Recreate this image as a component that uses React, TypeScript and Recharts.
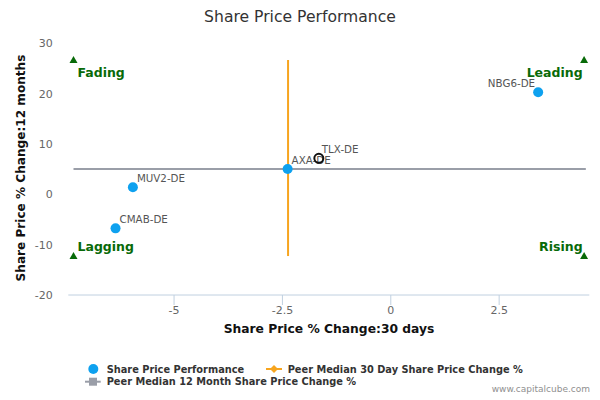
import React from "react";
import { ScatterChart, Scatter, XAxis, YAxis } from "recharts";

const BLUE = "#0ea1ef";
const ORANGE = "#f7a51f";
const GRAY = "#9a9ea8";
const GREEN = "#086a08";

// companies: 30 day change (x), 12 month change (y)
const tickers = ["MUV2-DE", "CMAB-DE", "AXA-DE", "NBG6-DE"];
const change30d = [-5.95, -6.35, -2.38, 3.4];
const change12m = [1.39, -6.76, 5.03, 20.28];

const focusTicker = ["TLX-DE"];
const focus30d = [-1.66];
const focus12m = [7.16];

// peer medians
const median30dX = [-2.37, -2.37];
const median30dY = [26.68, -12.26];
const median12mX = [-7.32, 4.5];
const median12mY = [5.03, 5.03];

// quadrant corner markers
const quadrantNames = ["Fading", "Lagging", "Leading", "Rising"];
const quadrantX = [-7.32, -7.32, 4.46, 4.46];
const quadrantY = [26.68, -12.26, 26.68, -12.26];

const xTicks = [-5, -2.5, 0, 2.5];
const yTicks = [-20, -10, 0, 10, 20, 30];

const companies = tickers.map((name, i) => ({ name, x: change30d[i], y: change12m[i] }));
const focus = focusTicker.map((name, i) => ({ name, x: focus30d[i], y: focus12m[i] }));
const medianX = median30dX.map((x, i) => ({ x, y: median30dY[i] }));
const medianY = median12mX.map((x, i) => ({ x, y: median12mY[i] }));
const quadrants = quadrantNames.map((name, i) => ({ name, x: quadrantX[i], y: quadrantY[i] }));

const labelStyle = { fontSize: 10.3, fill: "#555" };

const CompanyDot = (props: any) => {
  const { cx, cy, payload } = props;
  const right = payload.x > 0;
  return (
    <g>
      <circle cx={cx} cy={cy} r={5} fill={BLUE} />
      <text x={right ? cx - 3 : cx + 4} y={cy - 5} textAnchor={right ? "end" : "start"} {...labelStyle}>
        {payload.name}
      </text>
    </g>
  );
};

const FocusDot = (props: any) => {
  const { cx, cy, payload } = props;
  return (
    <g>
      <circle cx={cx} cy={cy} r={4.5} fill="none" stroke="#111" strokeWidth={2} />
      <text x={cx + 3} y={cy - 5} {...labelStyle}>
        {payload.name}
      </text>
    </g>
  );
};

const Corner = (props: any) => {
  const { cx, cy, payload } = props;
  const right = payload.x > 0;
  const top = payload.y > 0;
  return (
    <g>
      <path d={`M${cx},${cy - 4} L${cx + 4},${cy + 3} L${cx - 4},${cy + 3} Z`} fill={GREEN} />
      <text
        x={right ? cx - 1.5 : cx + 4}
        y={top ? cy + 16.7 : cy - 5.3}
        textAnchor={right ? "end" : "start"}
        fontSize={12.5}
        fontWeight="bold"
        fill={GREEN}
      >
        {payload.name}
      </text>
    </g>
  );
};

const Empty = () => <g />;

export default function App() {
  return (
    <div style={{ position: "absolute", left: 0, top: 0, width: 600, height: 400, fontFamily: "DejaVu Sans", background: "#fff" }}>
      <ScatterChart width={600} height={400} margin={{ top: 43.3, right: 10.7, left: 0, bottom: 65 }}>
        <XAxis
          type="number"
          dataKey="x"
          domain={[-7.44, 4.58]}
          ticks={xTicks}
          allowDataOverflow
          height={40}
          tickSize={10}
          tickMargin={1}
          stroke="#c0d0e0"
          tick={{ fill: "#666", fontSize: 11 }}
        />
        <YAxis
          type="number"
          dataKey="y"
          domain={[-20, 30]}
          ticks={yTicks}
          allowDataOverflow
          width={68.3}
          axisLine={false}
          tickLine={false}
          tickMargin={9.5}
          tick={{ fill: "#666", fontSize: 11 }}
        />
        <Scatter data={medianY} line={{ stroke: GRAY, strokeWidth: 2 }} shape={Empty} isAnimationActive={false} />
        <Scatter data={medianX} line={{ stroke: ORANGE, strokeWidth: 2 }} shape={Empty} isAnimationActive={false} />
        <Scatter data={quadrants} shape={Corner} isAnimationActive={false} />
        <Scatter data={companies} shape={CompanyDot} isAnimationActive={false} />
        <Scatter data={focus} shape={FocusDot} isAnimationActive={false} />
      </ScatterChart>
      <svg width={600} height={400} style={{ position: "absolute", left: 0, top: 0, pointerEvents: "none" }}>
        <text x={300} y={21.7} textAnchor="middle" fontSize={15.6} fill="#333">
          Share Price Performance
        </text>
        <text x={329} y={333} textAnchor="middle" fontSize={12.3} fontWeight="bold" fill="#111">
          Share Price % Change:30 days
        </text>
        <text transform="translate(25,168) rotate(-90)" textAnchor="middle" fontSize={12.1} fontWeight="bold" fill="#111">
          Share Price % Change:12 months
        </text>
        <g fontSize={9.8} fontWeight="bold" fill="#333">
          <circle cx={93.3} cy={369} r={5} fill={BLUE} />
          <text x={106.7} y={372.5}>Share Price Performance</text>
          <line x1={266} x2={282} y1={369} y2={369} stroke={ORANGE} strokeWidth={2} />
          <path d="M274,365 L278,369 L274,373 L270,369 Z" fill={ORANGE} />
          <text x={287.7} y={372.5}>Peer Median 30 Day Share Price Change %</text>
          <line x1={85} x2={100.7} y1={381.7} y2={381.7} stroke={GRAY} strokeWidth={2} />
          <rect x={89} y={377.7} width={8} height={8} fill={GRAY} />
          <text x={106.7} y={385.2}>Peer Median 12 Month Share Price Change %</text>
        </g>
        <text x={590} y={392} textAnchor="end" fontSize={9} fill="#909090">
          www.capitalcube.com
        </text>
      </svg>
    </div>
  );
}
